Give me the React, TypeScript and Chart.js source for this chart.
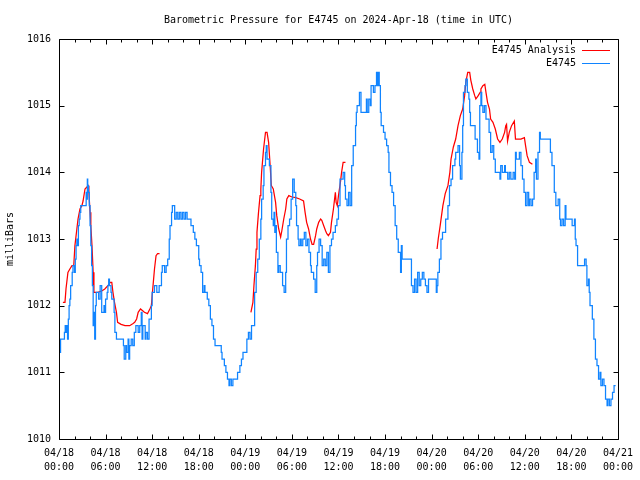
import { useEffect, useRef } from 'react';
import { Chart, registerables } from 'chart.js';

Chart.register(...registerables);

const TITLE = 'Barometric Pressure for E4745 on 2024-Apr-18 (time in UTC)';
const Y_TITLE = 'milliBars';
const SERIES_NAMES = ['E4745 Analysis', 'E4745'];
const SERIES_COLORS = ['#ff0000', '#1084ff'];

const xTickLabels = [
  ['04/18', '00:00'], ['04/18', '06:00'], ['04/18', '12:00'], ['04/18', '18:00'],
  ['04/19', '00:00'], ['04/19', '06:00'], ['04/19', '12:00'], ['04/19', '18:00'],
  ['04/20', '00:00'], ['04/20', '06:00'], ['04/20', '12:00'], ['04/20', '18:00'],
  ['04/21', '00:00'],
];
const yTickValues = [1010, 1011, 1012, 1013, 1014, 1015, 1016];

// hours since 04/18 00:00 UTC
const stationTimes = [
  0.0, 0.2, 0.4, 0.7, 0.8, 0.9, 1.0, 1.1, 1.2, 1.3, 1.4, 1.5, 1.7, 1.8, 2.0, 2.1, 2.2, 2.3, 2.4, 2.5,
  2.6, 2.7, 2.8, 2.9, 3.5, 3.6, 3.65, 3.7, 3.75, 3.8, 3.9, 4.0, 4.1, 4.2, 4.3, 4.4, 4.5, 4.6, 4.7, 4.8,
  4.9, 5.1, 5.3, 5.5, 5.6, 5.8, 5.9, 6.0, 6.2, 6.3, 6.4, 6.5, 6.7, 6.8, 6.9, 7.1, 7.2, 7.4, 7.5, 8.3,
  8.4, 8.6, 8.7, 8.9, 9.0, 9.1, 9.3, 9.5, 9.7, 9.9, 10.2, 10.4, 10.6, 10.7, 10.8, 11.1, 11.2, 11.4, 11.6, 11.9,
  12.0, 12.3, 12.6, 12.9, 13.2, 13.3, 13.6, 13.8, 14.0, 14.2, 14.3, 14.5, 14.6, 14.9, 15.1, 15.3, 15.5, 15.7, 15.9, 16.1,
  16.3, 16.5, 17.0, 17.3, 17.5, 17.7, 18.0, 18.1, 18.3, 18.5, 18.7, 18.8, 19.1, 19.3, 19.5, 19.7, 19.9, 20.1, 20.9, 21.0,
  21.3, 21.5, 21.7, 21.9, 22.0, 22.2, 22.4, 23.0, 23.3, 23.5, 23.7, 24.2, 24.4, 24.6, 24.8, 25.2, 25.4, 25.6, 25.8, 26.0,
  26.1, 26.3, 26.4, 26.6, 26.7, 26.8, 27.1, 27.3, 27.4, 27.6, 27.7, 27.8, 27.9, 28.0, 28.2, 28.3, 28.5, 28.8, 29.0, 29.2,
  29.3, 29.5, 29.7, 29.9, 30.1, 30.3, 30.5, 30.6, 30.8, 30.9, 31.1, 31.2, 31.4, 31.6, 31.8, 32.0, 32.2, 32.4, 32.5, 32.8,
  33.0, 33.2, 33.3, 33.5, 33.7, 33.9, 34.1, 34.3, 34.5, 34.7, 34.9, 35.1, 35.3, 35.6, 35.8, 36.0, 36.2, 36.6, 36.8, 36.9,
  37.1, 37.3, 37.5, 37.7, 37.9, 38.2, 38.3, 38.4, 38.7, 38.9, 39.6, 39.7, 39.9, 40.1, 40.2, 40.5, 40.7, 40.9, 41.0, 41.1,
  41.25, 41.4, 41.5, 41.8, 42.0, 42.2, 42.4, 42.5, 42.7, 42.9, 43.1, 43.3, 43.5, 43.7, 44.0, 44.1, 44.2, 45.4, 45.6, 45.8,
  46.0, 46.2, 46.4, 46.6, 46.8, 47.0, 47.2, 47.4, 47.6, 48.6, 48.7, 48.8, 49.0, 49.2, 49.4, 49.8, 50.1, 50.3, 50.5, 50.7,
  51.0, 51.1, 51.4, 51.6, 51.7, 51.9, 52.0, 52.1, 52.3, 52.4, 52.6, 52.8, 52.9, 53.0, 53.6, 53.9, 54.1, 54.2, 54.35, 54.45,
  54.6, 54.8, 55.0, 55.4, 55.6, 55.8, 56.0, 56.2, 56.8, 56.9, 57.1, 57.4, 57.5, 57.8, 58.0, 58.2, 58.5, 58.7, 58.8, 58.9,
  59.3, 59.5, 59.7, 59.9, 60.1, 60.3, 60.5, 60.6, 60.8, 61.0, 61.2, 61.4, 61.5, 61.7, 61.9, 62.0, 63.3, 63.5, 63.8, 64.0,
  64.3, 64.5, 64.6, 64.8, 65.0, 65.2, 65.3, 66.1, 66.4, 66.5, 66.6, 66.8, 67.7, 67.9, 68.0, 68.2, 68.3, 68.4, 68.7, 68.9,
  69.1, 69.3, 69.5, 69.7, 69.8, 70.0, 70.2, 70.4, 70.6, 70.7, 70.9, 71.1, 71.3, 71.5, 71.7,
];
const stationValues = [
  1011.1, 1011.3, 1011.5, 1011.5, 1011.6, 1011.7, 1011.6, 1011.7, 1011.5, 1011.8, 1012.0, 1012.1, 1012.3, 1012.5, 1012.6, 1012.5, 1012.7, 1012.9, 1013.0, 1012.9,
  1013.2, 1013.3, 1013.4, 1013.5, 1013.5, 1013.7, 1013.6, 1013.9, 1013.7, 1013.8, 1013.7, 1013.5, 1013.2, 1012.9, 1012.6, 1012.3, 1011.7, 1011.9, 1011.5, 1012.0,
  1012.2, 1012.2, 1012.1, 1012.3, 1011.9, 1011.9, 1012.0, 1011.9, 1012.1, 1012.2, 1012.3, 1012.4, 1012.3, 1012.2, 1012.1, 1012.1, 1011.9, 1011.6, 1011.5, 1011.5,
  1011.4, 1011.2, 1011.4, 1011.3, 1011.5, 1011.2, 1011.4, 1011.5, 1011.4, 1011.6, 1011.7, 1011.6, 1011.7, 1011.9, 1011.5, 1011.7, 1011.5, 1011.6, 1011.5, 1011.8,
  1012.0, 1012.2, 1012.3, 1012.2, 1012.3, 1012.5, 1012.6, 1012.5, 1012.6, 1012.7, 1013.0, 1013.2, 1013.4, 1013.5, 1013.3, 1013.4, 1013.3, 1013.4, 1013.3, 1013.4,
  1013.3, 1013.4, 1013.3, 1013.2, 1013.1, 1013.0, 1012.9, 1012.7, 1012.6, 1012.5, 1012.2, 1012.3, 1012.2, 1012.1, 1012.0, 1011.8, 1011.7, 1011.5, 1011.4, 1011.3,
  1011.2, 1011.1, 1011.0, 1010.9, 1010.8, 1010.9, 1010.8, 1010.9, 1011.0, 1011.1, 1011.2, 1011.3, 1011.5, 1011.6, 1011.5, 1011.7, 1012.2, 1012.5, 1012.7, 1013.0,
  1013.3, 1013.6, 1013.8, 1014.1, 1014.3, 1014.4, 1014.2, 1014.1, 1013.7, 1013.3, 1013.2, 1013.4, 1013.1, 1013.2, 1012.8, 1012.5, 1012.6, 1012.5, 1012.3, 1012.2,
  1012.5, 1013.0, 1013.2, 1013.3, 1013.6, 1013.9, 1013.7, 1013.5, 1013.2, 1013.0, 1012.9, 1013.0, 1012.9, 1013.0, 1013.1, 1012.9, 1013.0, 1012.8, 1012.6, 1012.5,
  1012.4, 1012.2, 1012.6, 1012.8, 1013.0, 1012.9, 1012.6, 1012.7, 1012.6, 1012.8, 1012.5, 1012.9, 1013.0, 1013.1, 1013.2, 1013.3, 1013.5, 1013.9, 1014.0, 1013.8,
  1013.6, 1013.5, 1013.7, 1013.5, 1014.1, 1014.4, 1014.7, 1014.9, 1015.0, 1015.2, 1014.9, 1015.1, 1014.9, 1015.1, 1015.0, 1015.3, 1015.2, 1015.3, 1015.5, 1015.3,
  1015.5, 1015.3, 1014.9, 1014.7, 1014.6, 1014.5, 1014.4, 1014.3, 1014.0, 1013.8, 1013.7, 1013.5, 1013.2, 1013.0, 1012.8, 1012.5, 1012.9, 1012.7, 1012.3, 1012.2,
  1012.4, 1012.2, 1012.5, 1012.3, 1012.4, 1012.5, 1012.4, 1012.3, 1012.2, 1012.4, 1012.2, 1012.3, 1012.5, 1012.7, 1013.0, 1013.1, 1013.3, 1013.5, 1013.8, 1013.9,
  1014.1, 1014.2, 1014.3, 1014.4, 1014.1, 1013.9, 1014.3, 1014.7, 1015.2, 1015.3, 1015.4, 1015.2, 1015.1, 1014.9, 1014.7, 1014.5, 1014.3, 1014.2, 1015.0, 1015.2,
  1015.0, 1014.9, 1015.0, 1014.8, 1014.6, 1014.3, 1014.4, 1014.2, 1014.0, 1013.9, 1014.1, 1014.0, 1014.1, 1014.0, 1013.9, 1014.0, 1013.9, 1014.0, 1013.9, 1014.3,
  1014.2, 1014.3, 1014.1, 1013.9, 1013.7, 1013.5, 1013.7, 1013.5, 1013.6, 1013.5, 1013.6, 1014.0, 1014.2, 1013.9, 1014.3, 1014.6, 1014.5, 1014.3, 1014.1, 1013.7,
  1013.5, 1013.6, 1013.3, 1013.2, 1013.3, 1013.2, 1013.5, 1013.3, 1013.2, 1013.3, 1013.0, 1012.9, 1012.6, 1012.7, 1012.6, 1012.3, 1012.4, 1012.2, 1012.0, 1011.8,
  1011.5, 1011.2, 1011.1, 1010.9, 1011.0, 1010.8, 1010.9, 1010.8, 1010.6, 1010.5, 1010.6, 1010.5, 1010.6, 1010.7, 1010.8,
];

// analysis: three 12-hour runs, null = gap
const analysisTimes = [
  0.5, 0.77, 0.9, 1.15, 1.4, 1.67, 1.9, 2.05, 2.3, 2.45, 2.7, 2.95, 3.1, 3.35, 3.6, 3.75, 3.85, 4.0, 4.1, 4.25,
  4.4, 4.5, 5.0, 5.5, 5.9, 6.3, 6.6, 6.8, 6.95, 7.15, 7.4, 7.55, 8.0, 8.5, 9.1, 9.5, 9.75, 10.0, 10.2, 10.5,
  10.7, 11.0, 11.4, 11.7, 11.9, 12.0, 12.15, 12.3, 12.5, 12.7, 12.95,
  18.0,
  24.72, 24.98, 25.11, 25.3, 25.4, 25.5, 25.7, 25.9, 26.0, 26.1, 26.35, 26.6, 26.8, 27.0, 27.2, 27.35, 27.6, 27.9, 28.05, 28.3,
  28.55, 28.7, 28.95, 29.2, 29.35, 29.6, 30.0, 30.5, 31.0, 31.5, 31.7, 31.9, 32.15, 32.4, 32.6, 32.8, 33.05, 33.2, 33.45, 33.7,
  33.85, 34.1, 34.35, 34.5, 34.7, 34.97, 35.1, 35.35, 35.6, 35.7, 35.85, 36.0, 36.25, 36.4, 36.6, 36.9,
  42.0,
  48.7, 48.85, 49.1, 49.45, 49.75, 50.1, 50.35, 50.5, 50.8, 51.1, 51.4, 51.7, 52.0, 52.25, 52.4, 52.65, 52.9, 53.05, 53.3, 53.55,
  53.7, 54.0, 54.25, 54.35, 54.6, 54.85, 55.0, 55.2, 55.45, 55.6, 55.9, 56.2, 56.5, 56.8, 57.1, 57.4, 57.55, 57.65, 57.78, 58.0,
  58.3, 58.65, 58.8, 59.5, 59.95, 60.1, 60.3, 60.6, 60.98,
];
const analysisValues = [
  1012.05, 1012.05, 1012.25, 1012.5, 1012.55, 1012.6, 1012.6, 1012.9, 1013.15, 1013.3, 1013.45, 1013.5, 1013.57, 1013.75, 1013.78, 1013.8, 1013.7, 1013.4, 1013.2, 1012.9,
  1012.5, 1012.2, 1012.2, 1012.22, 1012.25, 1012.3, 1012.35, 1012.35, 1012.2, 1012.05, 1011.9, 1011.75, 1011.72, 1011.7, 1011.7, 1011.73, 1011.75, 1011.8, 1011.9, 1011.95,
  1011.93, 1011.9, 1011.88, 1011.95, 1012.0, 1012.15, 1012.35, 1012.55, 1012.75, 1012.78, 1012.78,
  null,
  1011.9, 1012.05, 1012.3, 1012.6, 1012.85, 1013.1, 1013.4, 1013.65, 1013.75, 1014.0, 1014.35, 1014.6, 1014.6, 1014.45, 1014.1, 1013.8, 1013.75, 1013.55, 1013.35, 1013.15,
  1013.03, 1013.12, 1013.3, 1013.45, 1013.6, 1013.65, 1013.63, 1013.62, 1013.6, 1013.57, 1013.4, 1013.25, 1013.15, 1013.0, 1012.92, 1012.92, 1013.05, 1013.15, 1013.25, 1013.3,
  1013.28, 1013.2, 1013.12, 1013.08, 1013.05, 1013.1, 1013.25, 1013.45, 1013.7, 1013.55, 1013.5, 1013.65, 1013.85, 1014.0, 1014.15, 1014.15,
  null,
  1012.85, 1013.0, 1013.2, 1013.5, 1013.68, 1013.8, 1014.0, 1014.2, 1014.38, 1014.5, 1014.7, 1014.85, 1014.95, 1015.15, 1015.35, 1015.5, 1015.5, 1015.38, 1015.25, 1015.15,
  1015.1, 1015.15, 1015.2, 1015.25, 1015.3, 1015.32, 1015.2, 1015.05, 1014.95, 1014.8, 1014.75, 1014.65, 1014.5, 1014.45, 1014.5, 1014.6, 1014.7, 1014.72, 1014.47, 1014.6,
  1014.7, 1014.77, 1014.5, 1014.5, 1014.52, 1014.4, 1014.25, 1014.15, 1014.12,
];

const FONT = 'DejaVu Sans Mono';

const framePlugin = {
  id: 'gnuplotFrame',
  afterDraw(chart: any) {
    const { ctx, scales } = chart;
    const xs = scales.x;
    const ys = scales.y;
    const crisp = (v: number) => Math.round(v) + 0.5;
    const left = crisp(xs.getPixelForValue(xs.min));
    const right = crisp(xs.getPixelForValue(xs.max));
    const top = crisp(ys.getPixelForValue(ys.max));
    const bottom = crisp(ys.getPixelForValue(ys.min));
    ctx.save();
    ctx.strokeStyle = '#000';
    ctx.lineWidth = 1;
    ctx.beginPath();
    ctx.rect(left, top, right - left, bottom - top);
    // x ticks: major every 6 h, minor every 2 h, inward on bottom and top
    for (let h = xs.min; h <= xs.max; h += 2) {
      const len = h % 6 === 0 ? 5 : 3;
      const px = crisp(xs.getPixelForValue(h));
      ctx.moveTo(px, bottom);
      ctx.lineTo(px, bottom - len);
      ctx.moveTo(px, top);
      ctx.lineTo(px, top + len);
    }
    for (const v of yTickValues) {
      const py = crisp(ys.getPixelForValue(v));
      ctx.moveTo(left, py);
      ctx.lineTo(left + 5, py);
      ctx.moveTo(right, py);
      ctx.lineTo(right - 5, py);
    }
    ctx.stroke();

    // key (inside the plot, top right)
    ctx.font = `10px "${FONT}"`;
    ctx.textAlign = 'right';
    ctx.textBaseline = 'middle';
    ctx.fillStyle = '#000';
    const rows = [50, 63.5];
    SERIES_NAMES.forEach((name, i) => {
      const y = rows[i];
      ctx.fillText(name, 576, y);
      ctx.beginPath();
      ctx.strokeStyle = SERIES_COLORS[i];
      ctx.moveTo(582, Math.floor(y) + 0.5);
      ctx.lineTo(610, Math.floor(y) + 0.5);
      ctx.stroke();
    });
    ctx.restore();
  },
};

export default function App() {
  const ref = useRef<HTMLCanvasElement | null>(null);

  useEffect(() => {
    if (!ref.current) return;
    Chart.defaults.font.family = FONT;
    Chart.defaults.font.size = 10;
    Chart.defaults.color = '#000';

    const stationData = stationTimes.map((t, i) => ({ x: t, y: stationValues[i] }));
    const analysisData = analysisTimes.map((t, i) => ({ x: t, y: analysisValues[i] }));

    const chart = new Chart(ref.current, {
      type: 'line',
      data: {
        datasets: [
          {
            label: SERIES_NAMES[1],
            data: stationData,
            borderColor: SERIES_COLORS[1],
            borderWidth: 1.25,
            pointRadius: 0,
            stepped: 'after',
            tension: 0,
          },
          {
            label: SERIES_NAMES[0],
            data: analysisData as any,
            borderColor: SERIES_COLORS[0],
            borderWidth: 1.25,
            pointRadius: 0,
            stepped: false,
            tension: 0,
            spanGaps: false,
          },
        ],
      },
      options: {
        animation: false,
        responsive: false,
        devicePixelRatio: 1,
        layout: { padding: { top: 0, right: 19, bottom: 0, left: 0 } },
        plugins: {
          legend: { display: false },
          tooltip: { enabled: false },
          title: {
            display: true,
            text: TITLE,
            fullSize: false,
            align: 'center',
            color: '#000',
            font: { family: FONT, size: 10, weight: 'normal', lineHeight: 1.2 },
            padding: { top: 14, bottom: 13 },
          },
        },
        scales: {
          x: {
            type: 'linear',
            min: 0,
            max: 72,
            grid: { display: false, drawTicks: false },
            border: { display: false },
            ticks: {
              stepSize: 6,
              autoSkip: false,
              maxRotation: 0,
              padding: 7,
              color: '#000',
              font: { family: FONT, size: 10, lineHeight: 1.4 },
              callback: (v: any) => xTickLabels[Math.round(Number(v) / 6)] as any,
            },
            afterFit: (s: any) => { s.height = 41; },
          },
          y: {
            type: 'linear',
            min: 1010,
            max: 1016,
            grid: { display: false, drawTicks: false },
            border: { display: false },
            ticks: {
              stepSize: 1,
              padding: 8,
              color: '#000',
              font: { family: FONT, size: 10 },
              callback: (v: any) => String(v),
            },
            title: {
              display: true,
              text: Y_TITLE,
              color: '#000',
              font: { family: FONT, size: 10, lineHeight: 1.2 },
              padding: { top: 4, bottom: 0 },
            },
            afterFit: (s: any) => { s.width = 59; },
          },
        },
      },
      plugins: [framePlugin],
    });
    return () => chart.destroy();
  }, []);

  return (
    <div style={{ position: 'absolute', left: 0, top: 0, width: 640, height: 480, background: '#fff' }}>
      <canvas ref={ref} width={640} height={480} style={{ display: 'block', width: 640, height: 480 }} />
    </div>
  );
}
